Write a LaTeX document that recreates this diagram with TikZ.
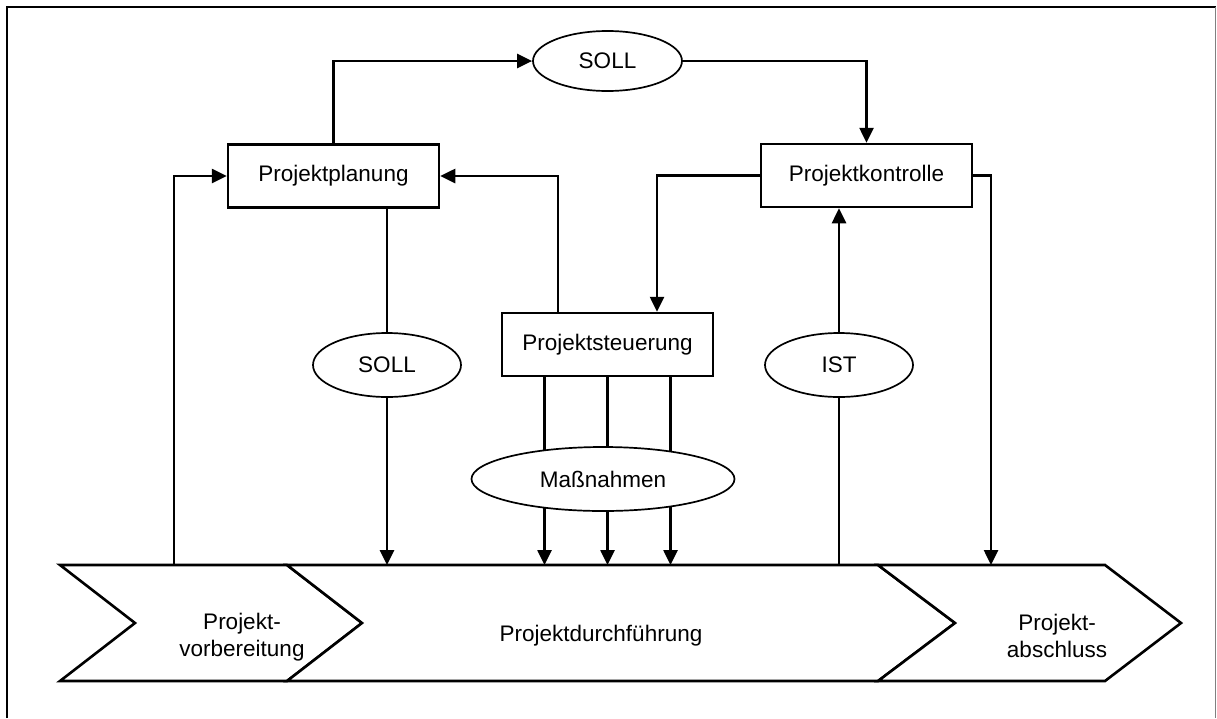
\documentclass[tikz,border=0pt]{standalone}
\usepackage{fontspec}
\setmainfont{Liberation Sans}
\usetikzlibrary{arrows.meta,shapes.geometric,backgrounds}
\begin{document}
\begin{tikzpicture}[x=1pt,y=-1pt,
  font=\fontsize{22.5}{27}\selectfont,
  stepbox/.style={draw,line width=2.5pt,fill=white,minimum width=211pt,minimum height=63pt,inner sep=0pt},
  oval/.style={draw,ellipse,line width=1.7pt,fill=white,minimum width=148pt,minimum height=62pt,inner sep=0pt},
  conn/.style={line width=2.6pt},
  arr/.style={conn,-{Triangle[length=15pt,width=14pt]}},
  phase/.style={draw,line width=2.6pt,line join=miter,fill=white}]
\useasboundingbox (0,0) rectangle (1217,718);

% outer frame
\draw[line width=2.2pt] (7,718) -- (7,7) -- (1215.5,7);
\draw[gray,line width=1.2pt] (1215.5,7) -- (1215.5,718);

% phase chevrons
\draw[phase] (60,565) -- (287,565) -- (362,623) -- (287,681) -- (60,681) -- (135,623) -- cycle;
\draw[phase] (287,565) -- (878,565) -- (955,623) -- (878,681) -- (287,681) -- (362,623) -- cycle;
\draw[phase] (878,565) -- (1105,565) -- (1181,623) -- (1105,681) -- (878,681) -- (955,623) -- cycle;
\node[align=center] (vorb) at (242,637) {Projekt-\\vorbereitung};
\node (durch) at (601,636) {Projektdurchführung};
\node[align=center] (absch) at (1057,636) {Projekt-\\abschluss};
\coordinate (bartop) at (0,565);

% process boxes
\node[stepbox] (plan) at (333.5,176) {Projektplanung};
\node[stepbox] (kontr) at (866.5,175.5) {Projektkontrolle};
\node[stepbox] (steuer) at (607.5,344.5) {Projektsteuerung};

% ellipses
\node[oval,minimum width=149pt,minimum height=60pt] (sollT) at (607.5,61) {SOLL};
\node[oval,minimum height=64pt] (sollM) at (387,365) {SOLL};
\node[oval,minimum height=64pt] (ist) at (839,365) {IST};
\node[oval,minimum width=263pt,minimum height=64pt] (mass) at (603,479) {Maßnahmen};

% planning loop
\draw[arr] (plan.north) |- (sollT.west);
\draw[arr] (sollT.east) -| (kontr.north);
\coordinate (vstart) at (174,565);
\draw[arr] (vstart) |- (plan.west);
\draw[arr] ([xshift=-49.5pt]steuer.north) |- (plan.east);
\draw[arr] (kontr.west) -| ([xshift=49.5pt]steuer.north);
\coordinate (aend) at (991,565);
\draw[arr] (kontr.east) -| (aend);

% target values into execution
\draw[conn] (plan.south -| sollM) -- (sollM.north);
\draw[arr] (sollM.south) -- (sollM |- bartop);

% actual values back to control
\draw[conn] (ist |- bartop) -- (ist.south);
\draw[arr] (ist.north) -- (ist.north |- kontr.south);

% measures
\begin{scope}[on background layer]
  \foreach \dx in {-63,0,63} {
    \draw[conn] ([xshift=\dx pt]steuer.south) -- ([xshift=\dx pt]steuer.south |- mass.center);
    \draw[arr] ([xshift=\dx pt]steuer.south |- mass.center) -- ([xshift=\dx pt]steuer.south |- bartop);
  }
\end{scope}
\end{tikzpicture}
\end{document}
